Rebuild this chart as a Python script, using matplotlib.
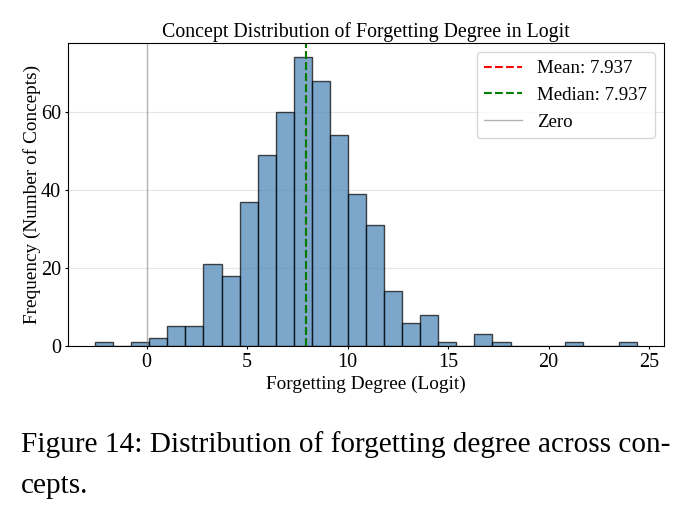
import numpy as np
import matplotlib
matplotlib.use("Agg")
import matplotlib.pyplot as plt

# Histogram: 30 equal bins between min and max
bin_min = -2.57
bin_max = 24.40
counts = [1, 0, 1, 2, 5, 5, 21, 18, 37, 49, 60, 74, 68, 54, 39,
          31, 14, 6, 8, 1, 0, 3, 1, 0, 0, 0, 1, 0, 0, 1]
mean_val = 7.937
median_val = 7.937
yticks = [0, 20, 40, 60]
xticks = [0, 5, 10, 15, 20, 25]

plt.rcParams['font.family'] = ['Liberation Serif', 'DejaVu Serif']
plt.rcParams['mathtext.fontset'] = 'stix'

fig = plt.figure(figsize=(6.91, 5.11), dpi=100)
ax = fig.add_axes([0.0984, 0.3229, 0.8626, 0.593])

edges = np.linspace(bin_min, bin_max, len(counts) + 1)
ax.hist(edges[:-1], bins=edges, weights=counts, color='steelblue', alpha=0.7,
        edgecolor='black', linewidth=1.0)
ax.axvline(mean_val, color='red', linestyle='--', linewidth=1.5, label=f'Mean: {mean_val:.3f}')
ax.axvline(median_val, color='green', linestyle='--', linewidth=1.5, label=f'Median: {median_val:.3f}')
ax.axvline(0, color='gray', linestyle='-', linewidth=1.0, alpha=0.6, label='Zero')

ax.set_yticks(yticks)
ax.set_xticks(xticks)
ax.set_title('Concept Distribution of Forgetting Degree in Logit', fontsize=14.3, pad=4)
ax.set_xlabel('Forgetting Degree (Logit)', fontsize=13.9, labelpad=3)
ax.set_ylabel('Frequency (Number of Concepts)', fontsize=13.9, labelpad=0)
ax.tick_params(labelsize=14.5, length=2.5, pad=2.5)
ax.grid(axis='y', alpha=0.3)
ax.set_axisbelow(True)
ax.legend(loc='upper right', fontsize=13.6, handlelength=2.0, labelspacing=0.5)

fig.text(0.03, 0.115, 'Figure 14: Distribution of forgetting degree across con-',
         fontsize=21.1, ha='left', va='baseline')
fig.text(0.03, 0.035, 'cepts.', fontsize=21.1, ha='left', va='baseline')

fig.savefig('out.png', dpi=100)
